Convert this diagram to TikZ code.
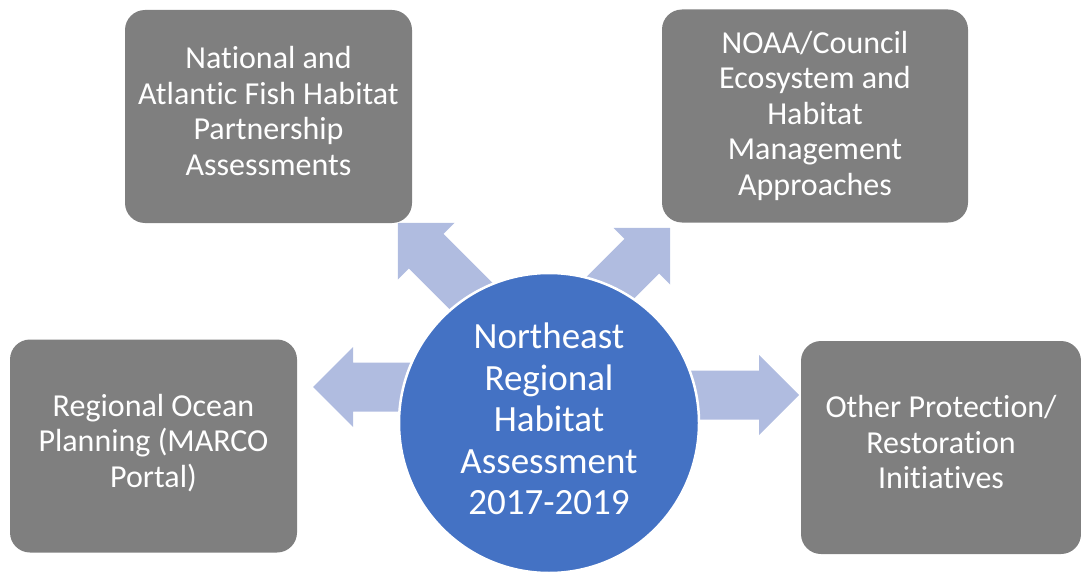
\documentclass[tikz,border=0pt]{standalone}
\usepackage{fontspec}
\setmainfont{Carlito}[Ligatures=NoCommon]
\usepackage{tikz}
\usetikzlibrary{shapes,arrows}
\usetikzlibrary{arrows.meta}
\usetikzlibrary{shapes.geometric}

\definecolor{boxgray}{HTML}{7F7F7F}
\definecolor{hubblue}{HTML}{4472C4}
\definecolor{arrowblue}{HTML}{B0BCE0}

\tikzset{
  pics/barrow/.style={code={
    \fill[arrowblue] (0,-24.5) -- (#1-40,-24.5) -- (#1-40,-40) -- (#1,0)
      -- (#1-40,40) -- (#1-40,24.5) -- (0,24.5) -- cycle;
  }}
}

\begin{document}
\begin{tikzpicture}[x=1pt, y=-1pt]
    \tikzstyle{box} = [rectangle, fill=boxgray, text=white, align=center, rounded corners=20pt, inner sep=0pt, minimum width=287pt, minimum height=213pt, text depth=11pt, font=\fontsize{32}{35.5}\selectfont]
    \tikzstyle{hub} = [circle, fill=hubblue, draw=white, line width=2.5pt, text=white, align=center, inner sep=0pt, minimum size=300pt, text depth=8pt, font=\fontsize{37}{41.5}\selectfont]

    \useasboundingbox (0,0) rectangle (1081,575);

    % block arrows behind the circle
    \pic[rotate=135] at (504,329) {barrow=150};
    \pic[rotate=45] at (564,334) {barrow=150};
    \pic[rotate=180] at (500,387) {barrow=187};
    \pic at (600,395) {barrow=199};

    \node [hub] (nrha) at (549,423) {Northeast\\Regional\\Habitat\\Assessment\\2017-2019};

    \node [box] (fishhab) at (268.5,116.5) {National and\\Atlantic Fish Habitat\\Partnership\\Assessments};
    \node [box, minimum width=306pt, text depth=6pt] (noaa) at (815,116) {NOAA/Council\\Ecosystem and\\Habitat\\Management\\Approaches};
    \node [box] (marco) at (153.5,446) {Regional Ocean\\Planning (MARCO\\Portal)};
    \node [box, minimum width=280pt] (other) at (941,447.5) {Other Protection/\\Restoration\\Initiatives};
  \end{tikzpicture}
\end{document}
